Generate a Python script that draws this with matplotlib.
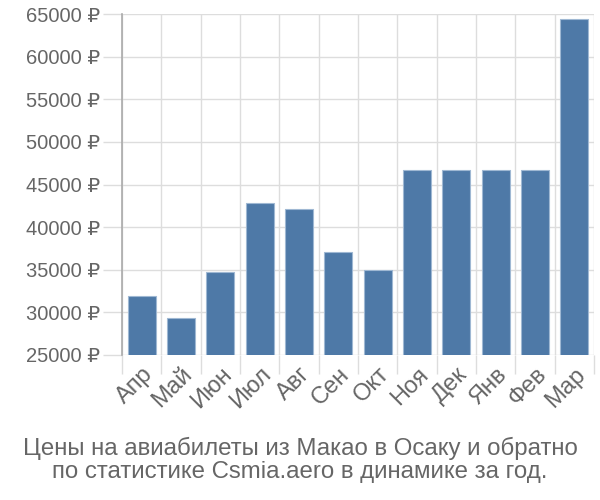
import matplotlib
matplotlib.use("Agg")
import matplotlib.pyplot as plt
import numpy as np

months = ["Апр", "Май", "Июн", "Июл", "Авг", "Сен", "Окт", "Ноя", "Дек", "Янв", "Фев", "Мар"]
prices = [31880, 29290, 34700, 42810, 42100, 37050, 34940, 46690, 46690, 46690, 46690, 64450]
yticks = [25000, 30000, 35000, 40000, 45000, 50000, 55000, 60000, 65000]
title = "Цены на авиабилеты из Макао в Осаку и обратно\nпо статистике Csmia.aero в динамике за год."

plt.rcParams['font.family'] = ['Liberation Sans', 'DejaVu Sans']
fig = plt.figure(figsize=(6, 5), dpi=100)
ax = fig.add_axes([122/600, 1-355/500, (594-122)/600, (355-14)/500])

x = np.arange(len(months))
ax.bar(x, prices, width=0.72, color='#4e79a7', edgecolor='#9fb8d3', linewidth=0.8, zorder=3)
ax.set_ylim(25000, 65000)
ax.set_xlim(-0.5, len(months) - 0.5)

ax.set_yticks(yticks)
ax.set_yticklabels([f"{v} ₽" for v in yticks], color='#666666', fontsize=14.5)
ax.set_xticks(x)
ax.set_xticklabels(months, rotation=45, ha='right', va='top', rotation_mode='anchor',
                   color='#666666', fontsize=17)
ax.set_xticks(np.arange(len(months) + 1) - 0.5, minor=True)

ax.tick_params(axis='x', which='major', length=0, pad=6)
ax.tick_params(axis='x', which='minor', length=14, color='#dddddd', width=1)
ax.tick_params(axis='y', length=14, color='#dddddd', width=1, pad=2)

ax.grid(True, axis='y', color='#dddddd', linewidth=1, zorder=0)
ax.grid(True, axis='x', which='minor', color='#dddddd', linewidth=1, zorder=0)

for s in ['top', 'right', 'bottom']:
    ax.spines[s].set_visible(False)
ax.spines['left'].set_color('#aaaaaa')
ax.spines['left'].set_linewidth(1.2)
ax.spines['left'].set_bounds(25000, 65000)

fig.text(0.5, 1-460/500, title, ha='center', va='center', color='#666666',
         fontsize=17.3, linespacing=1.1)

fig.savefig("out.png", dpi=100)
